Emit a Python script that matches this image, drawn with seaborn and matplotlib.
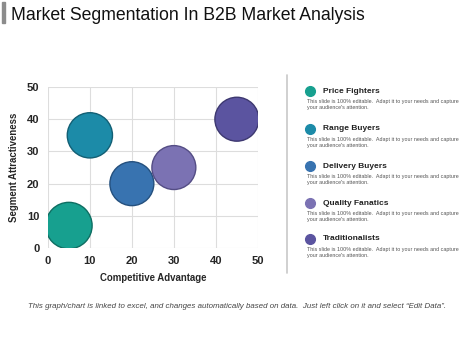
# plot.py - market segmentation bubble chart
import matplotlib
matplotlib.use("Agg")
import matplotlib.pyplot as plt
import seaborn as sns
import pandas as pd
from matplotlib.patches import Rectangle
from matplotlib.lines import Line2D

# --- data ---
segments = ["Price Fighters", "Range Buyers", "Delivery Buyers", "Quality Fanatics", "Traditionalists"]
competitive_advantage = [5, 10, 20, 30, 45]
segment_attractiveness = [7, 35, 20, 25, 40]
bubble_value = [11, 10.5, 10, 10, 10]
colors = ["#17A08F", "#1C8BA8", "#3873B0", "#7B72B3", "#5B54A0"]
edge_colors = ["#0E6E62", "#125F74", "#24507E", "#544D85", "#3D3870"]
desc = "This slide is 100% editable.  Adapt it to your needs and capture\nyour audience's attention."

df = pd.DataFrame({
    "segment": segments,
    "x": competitive_advantage,
    "y": segment_attractiveness,
    "size": bubble_value,
})

sns.set_style("white")
plt.rcParams["font.family"] = ["Liberation Sans", "DejaVu Sans"]

fig = plt.figure(figsize=(4.74, 3.55), dpi=100)
ax = fig.add_axes([0.101, 0.301, 0.443, 0.454])

sns.scatterplot(
    data=df, x="x", y="y", hue="segment", palette=colors,
    size="size", sizes=(1000, 1120), size_norm=(10, 11),
    edgecolor=edge_colors, linewidth=1.0, alpha=1, legend=False, ax=ax,
)

ax.set_xlim(0, 50)
ax.set_ylim(0, 50)
ax.set_xticks(range(0, 51, 10))
ax.set_yticks(range(0, 51, 10))
ax.grid(True, color="#DDDDDD", linewidth=0.8)
ax.set_axisbelow(True)
for s in ax.spines.values():
    s.set_visible(False)
ax.tick_params(length=0, labelsize=8, pad=6)
for lbl in ax.get_xticklabels() + ax.get_yticklabels():
    lbl.set_fontweight("bold")
ax.set_xlabel("Competitive Advantage", fontsize=6.9, fontweight="bold", labelpad=5)
ax.set_ylabel("Segment Attractiveness", fontsize=6.9, fontweight="bold", labelpad=6)

# title with gray bar
fig.patches.append(Rectangle((0.004, 0.935), 0.007, 0.058, transform=fig.transFigure,
                             color="#8C8C8C", zorder=1))
fig.text(0.024, 0.957, "Market Segmentation In B2B Market Analysis",
         fontsize=12.7, va="center", ha="left", color="#111111")

# separator line
fig.add_artist(Line2D([0.606, 0.606], [0.23, 0.79], transform=fig.transFigure,
                      color="#C8C8C8", linewidth=1.2))

# legend panel
row_y = [0.743, 0.637, 0.532, 0.428, 0.327]
for name, c, yy in zip(segments, colors, row_y):
    fig.add_artist(Line2D([0.654], [yy], transform=fig.transFigure, marker="o",
                          markersize=7, color=c, linestyle="none"))
    fig.text(0.681, yy, name, fontsize=6, fontweight="bold", va="center", ha="left",
             color="#222222")
    fig.text(0.647, yy - 0.022, desc, fontsize=3.9, va="top", ha="left",
             color="#555555", linespacing=1.35)

fig.text(0.5, 0.138,
         "This graph/chart is linked to excel, and changes automatically based on data.  "
         "Just left click on it and select \u201cEdit Data\u201d.",
         fontsize=5.7, style="italic", ha="center", va="center", color="#444444")

plt.savefig("out.png", dpi=100)
